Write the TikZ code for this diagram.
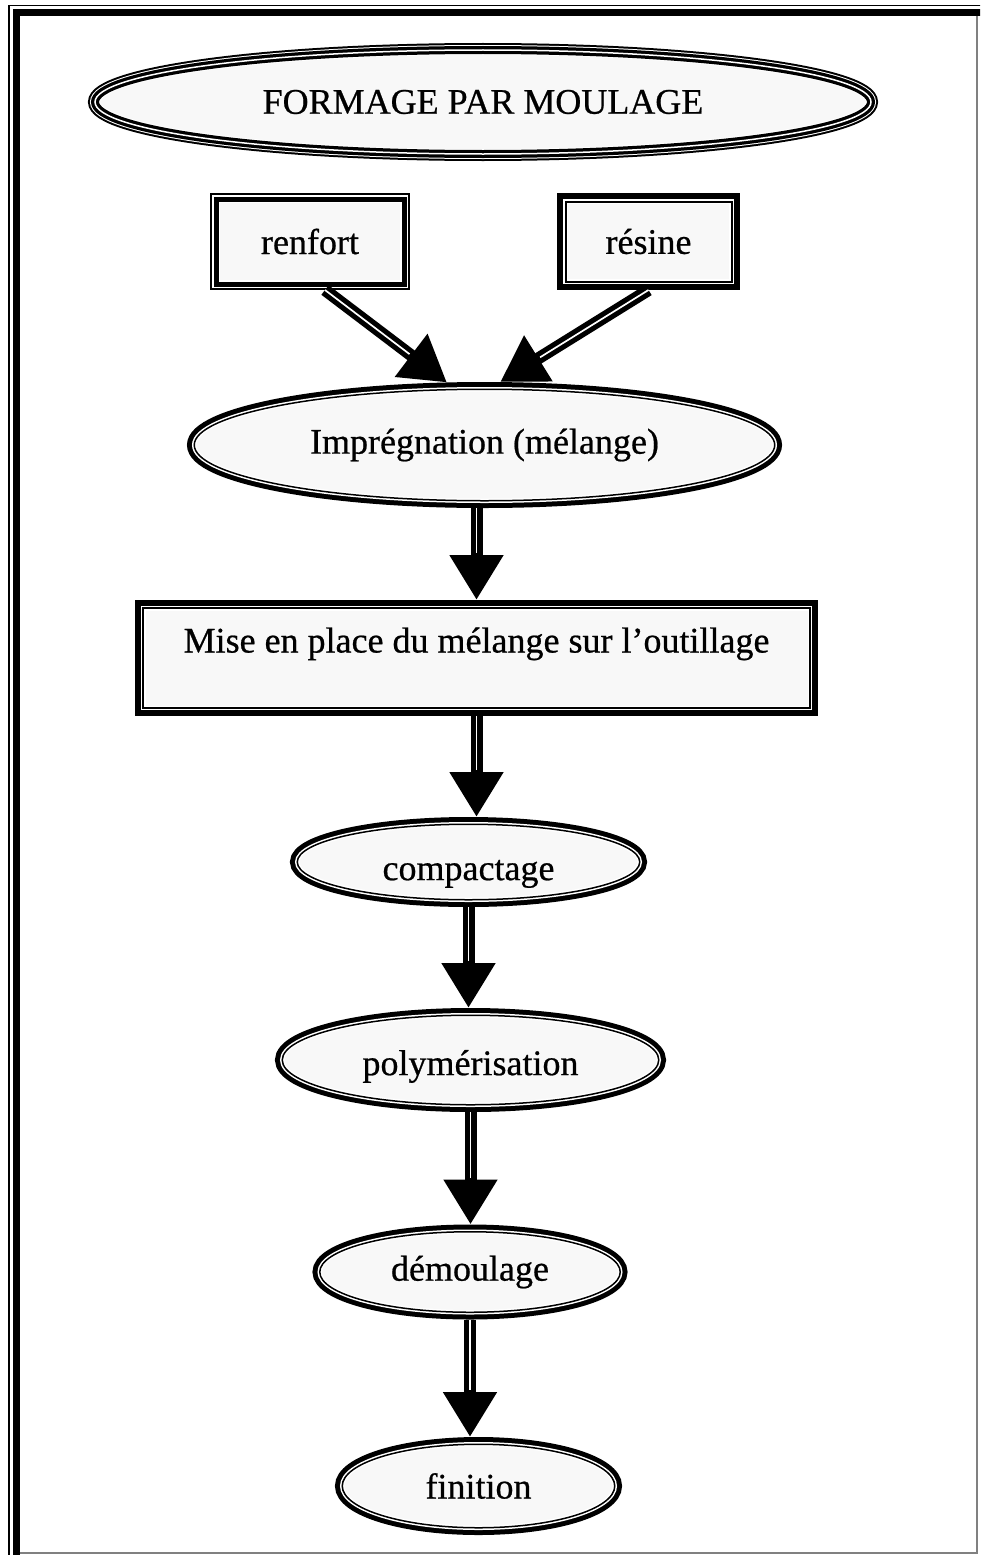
\documentclass[tikz,border=0pt]{standalone}
\usepackage{fontspec}
\setmainfont{Liberation Serif}[FakeBold=0.6]
\usetikzlibrary{shapes.geometric, arrows.meta}
\definecolor{paper}{HTML}{F8F8F8}

\begin{document}
\begin{tikzpicture}[x=1pt, y=-1pt, inner sep=0pt, font=\fontsize{36}{40}\selectfont,
    rim/.style n args={4}{preaction={draw=black, line width=#1}, preaction={fill=paper},
      draw=white, line width=#2, postaction={draw=black, line width=#3}, outer sep=#4},
    crown/.style={ellipse, preaction={draw=black, line width=14pt}, preaction={fill=paper},
      draw=white, line width=10pt, postaction={draw=black, line width=8pt},
      postaction={draw=white, line width=1.5pt}, outer sep=7pt},
    oval/.style={ellipse, rim={14.5pt}{4.5pt}{1.5pt}{7.25pt}},
    thinbox/.style={rectangle, rim={12pt}{8pt}{5pt}{6pt}},
    thickbox/.style={rectangle, rim={17pt}{5pt}{2pt}{8.5pt}},
    flow/.style={line width=12pt, -{Triangle[length=45pt, width=51pt]},
      postaction={draw=white, line width=1.7pt, -, shorten >=47pt}}]

      \fill[white] (0,0) rectangle (980,1555);
      \useasboundingbox (0,0) rectangle (980,1555);
      \clip (0,0) rectangle (980,1555);

      \draw[line width=1.5pt] (9,1560) -- (9,5.7) -- (990,5.7);
      \draw[line width=7pt] (16.5,1560) -- (16.5,13) -- (990,13);
      \draw[gray, line width=1.2pt] (977,16) -- (977,1553) -- (20,1553);

      \node[crown, minimum width=776pt, minimum height=104pt] (TITLE) at (483,102) {FORMAGE PAR MOULAGE};

      \node[thinbox, minimum width=188pt, minimum height=85pt] (IN_0) at (310,241.5) {renfort};
      \node[thickbox, minimum width=166pt, minimum height=80pt] (IN_1) at (648.5,241.5) {résine};

      \node[oval, minimum width=580.5pt, minimum height=111.5pt] (ST_0) at (484.5,445) {Imprégnation (mélange)};
      \node[thickbox, rim={16.5pt}{4.5pt}{1.5pt}{8.25pt}, minimum width=666.5pt, minimum height=99.5pt,
        text depth=36pt] (ST_1) at (476.5,658) {Mise en place du mélange sur l’outillage};
      \node[oval, minimum width=342.5pt, minimum height=75.5pt, text height=44pt] (ST_2) at (468.5,862) {compactage};
      \node[oval, minimum width=376.5pt, minimum height=89.5pt, text height=38pt] (ST_3) at (470.5,1060) {polymérisation};
      \node[oval, minimum width=300.5pt, minimum height=80.5pt] (ST_4) at (470,1272) {démoulage};
      \node[oval, minimum width=272.5pt, minimum height=83.5pt] (ST_5) at (478.5,1486) {finition};

      \draw[flow] ([xshift=15pt]IN_0.south) to (ST_0.121);
      \draw[flow] (IN_1.south) to (ST_0.76);
      \draw[flow] (ST_1.north |- ST_0.south) to (ST_1.north);

      \foreach \i [evaluate=\i as \prev using {int(\i-1)}] in {2, ..., 5}
        \draw[flow] (ST_\prev.south) to (ST_\prev.south |- ST_\i.north);

\end{tikzpicture}
\end{document}
